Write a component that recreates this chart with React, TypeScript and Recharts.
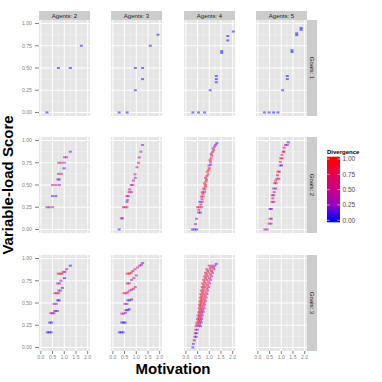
import React from 'react';
import { ScatterChart, Scatter, XAxis, YAxis, CartesianGrid } from 'recharts';

// [motivation, variable-load score, divergence]
type Pt = [number, number, number];

const agents = [2, 3, 4, 5];
const goals = [1, 2, 3];
const xTicks = [0, 0.5, 1, 1.5, 2];
const yTicks = [0, 0.25, 0.5, 0.75, 1];
const xMinor = [0.25, 0.75, 1.25, 1.75];
const yMinor = [0.125, 0.375, 0.625, 0.875];
const legendTicks = [1, 0.75, 0.5, 0.25, 0];

const a2g1: Pt[] = [[0.26, 0, 0], [0.75, 0.5, 0], [1.26, 0.5, 0], [1.73, 0.75, 0]];
const a3g1: Pt[] = [
  [0.27, 0, 0], [0.61, 0, 0], [0.96, 0.25, 0], [0.96, 0.5, 0], [1.27, 0.5, 0],
  [1.27, 0.375, 0], [1.6, 0.75, 0], [1.93, 0.875, 0],
];
const a4g1: Pt[] = [
  [0.3, 0, 0], [0.54, 0, 0], [0.8, 0, 0], [1.04, 0.25, 0], [1.3, 0.41, 0], [1.3, 0.375, 0],
  [1.3, 0.34, 0], [1.53, 0.69, 0], [1.53, 0.67, 0], [1.79, 0.86, 0], [1.79, 0.81, 0], [2.03, 0.91, 0],
];
const a5g1: Pt[] = [
  [0.28, 0, 0], [0.48, 0, 0], [0.67, 0, 0], [0.86, 0, 0], [1.06, 0.25, 0], [1.26, 0.41, 0],
  [1.26, 0.375, 0], [1.46, 0.7, 0], [1.46, 0.68, 0], [1.66, 0.89, 0], [1.66, 0.87, 0],
  [1.85, 0.95, 0], [1.85, 0.93, 0],
];

const a2g2: Pt[] = [
  [0.26, 0.25, 0.3], [0.36, 0.25, 0.2], [0.5, 0.25, 0.4], [0.5, 0.375, 0.1], [0.64, 0.375, 0.1],
  [0.5, 0.5, 0.6], [0.64, 0.5, 0.4], [0.79, 0.5, 0.3], [0.73, 0.5625, 0.05], [0.79, 0.5625, 0.3],
  [0.76, 0.625, 0.5], [0.87, 0.625, 0.6], [0.99, 0.6875, 0.05], [0.76, 0.75, 0.9], [0.87, 0.75, 0.6],
  [1.0, 0.75, 0.4], [1.01, 0.8125, 0.5], [1.1, 0.8125, 0.4], [1.26, 0.875, 0.15],
];
const a3g2: Pt[] = [
  [0.27, 0, 0.05], [0.36, 0.125, 0.3], [0.41, 0.125, 0.3], [0.45, 0.25, 0.5], [0.52, 0.25, 0.7],
  [0.6, 0.25, 0.9], [0.6, 0.31, 0.4], [0.62, 0.33, 0.3], [0.6, 0.375, 0.8], [0.66, 0.375, 0.5],
  [0.7, 0.42, 0.6], [0.79, 0.42, 0.3], [0.72, 0.45, 0.5], [0.79, 0.5, 0.4], [0.85, 0.5, 0.7],
  [0.88, 0.55, 0.4], [0.96, 0.58, 0.3], [0.95, 0.62, 0.5], [1.03, 0.7, 0.5], [1.1, 0.75, 0.6],
  [1.13, 0.81, 0.4], [1.2, 0.875, 0.3], [1.27, 0.95, 0.2],
];
const a4g2: Pt[] = [
  [0.28, 0, 0.1], [0.38, 0, 0], [0.46, 0, 0.1], [0.42, 0.06, 0.3], [0.46, 0.12, 0.4],
  [0.54, 0.19, 0.2], [0.62, 0.19, 0.1], [0.5, 0.25, 0.9], [0.58, 0.25, 0.8], [0.68, 0.25, 0.3],
  [0.6, 0.31, 0.1], [0.7, 0.31, 0.5], [0.66, 0.37, 0.9], [0.74, 0.37, 0.7], [0.7, 0.42, 0.5],
  [0.79, 0.42, 0.2], [0.76, 0.46, 0.7], [0.84, 0.48, 0.9], [0.8, 0.52, 0.6], [0.86, 0.54, 0.9],
  [0.84, 0.58, 0.8], [0.9, 0.6, 0.9], [0.92, 0.65, 0.9], [0.98, 0.67, 0.7], [0.99, 0.72, 0.2],
  [1.06, 0.73, 0.3], [1.03, 0.78, 0.7], [1.08, 0.8, 0.9], [1.08, 0.85, 0.5], [1.14, 0.87, 0.6],
  [1.16, 0.91, 0.4], [1.22, 0.93, 0.3], [1.27, 0.95, 0.2], [1.32, 0.97, 0.1],
  [0.55, 0.22, 0.9], [0.64, 0.28, 0.9], [0.69, 0.34, 0.8], [0.73, 0.4, 0.9], [0.8, 0.45, 0.9],
  [0.83, 0.5, 0.9], [0.88, 0.56, 0.7], [0.95, 0.62, 0.9], [1.0, 0.69, 0.9], [1.05, 0.76, 0.9],
  [1.11, 0.83, 0.8], [1.19, 0.89, 0.6],
];
const a5g2: Pt[] = [
  [0.3, 0, 0.2], [0.4, 0, 0.4], [0.48, 0.065, 0.5], [0.56, 0.065, 0.3], [0.52, 0.12, 0.3],
  [0.58, 0.12, 0.6], [0.52, 0.23, 0.1], [0.58, 0.23, 0.2], [0.6, 0.31, 0.7], [0.68, 0.31, 0.5],
  [0.62, 0.385, 0.6], [0.68, 0.385, 0.3], [0.68, 0.46, 0.4], [0.76, 0.46, 0.2], [0.72, 0.52, 0.9],
  [0.78, 0.52, 0.7], [0.82, 0.57, 0.4], [0.9, 0.57, 0.5], [0.86, 0.65, 0.9], [0.92, 0.65, 0.7],
  [0.95, 0.72, 0.3], [1.01, 0.72, 0.1], [0.98, 0.8, 0.9], [1.04, 0.8, 0.7], [1.08, 0.875, 0.6],
  [1.12, 0.875, 0.7], [1.18, 0.95, 0.3], [1.26, 0.95, 0.3], [1.3, 0.98, 0.1],
  [0.64, 0.35, 0.8], [0.7, 0.42, 0.7], [0.76, 0.55, 0.8], [0.84, 0.61, 0.9], [0.96, 0.76, 0.8],
  [1.03, 0.84, 0.8], [1.12, 0.92, 0.6],
];

const a2g3: Pt[] = [
  [0.28, 0.17, 0.05], [0.36, 0.17, 0.05], [0.44, 0.17, 0.05], [0.38, 0.28, 0.05], [0.46, 0.28, 0.05],
  [0.42, 0.385, 0.4], [0.5, 0.385, 0.4], [0.56, 0.385, 0.4], [0.6, 0.41, 0.05], [0.7, 0.41, 0.05],
  [0.56, 0.49, 0.35], [0.66, 0.49, 0.35], [0.72, 0.53, 0.05], [0.78, 0.53, 0.05],
  [0.6, 0.61, 0.6], [0.68, 0.61, 0.6], [0.76, 0.61, 0.6], [0.76, 0.64, 0.3], [0.84, 0.64, 0.3],
  [0.92, 0.67, 0.05], [0.72, 0.72, 0.4], [0.8, 0.72, 0.4], [0.86, 0.75, 0.3], [1.01, 0.78, 0],
  [0.74, 0.83, 0.9], [0.82, 0.83, 0.9], [0.9, 0.83, 0.9], [0.96, 0.85, 0.6], [1.03, 0.85, 0.6],
  [1.1, 0.88, 0.3], [1.26, 0.92, 0],
];
const a3g3: Pt[] = [
  [0.28, 0.17, 0.05], [0.36, 0.17, 0.05], [0.44, 0.17, 0.05], [0.38, 0.28, 0.05], [0.46, 0.28, 0.05],
  [0.52, 0.28, 0.05], [0.38, 0.38, 0.4], [0.46, 0.38, 0.4], [0.54, 0.39, 0.4], [0.56, 0.42, 0.1],
  [0.64, 0.42, 0.1], [0.7, 0.43, 0.1], [0.52, 0.49, 0.4], [0.6, 0.49, 0.4], [0.64, 0.53, 0.1],
  [0.72, 0.53, 0.1], [0.8, 0.54, 0.1], [0.48, 0.61, 0.8], [0.56, 0.61, 0.8], [0.64, 0.62, 0.8],
  [0.72, 0.64, 0.5], [0.8, 0.65, 0.5], [0.88, 0.66, 0.5], [0.96, 0.68, 0.5], [0.62, 0.72, 0.6],
  [0.7, 0.72, 0.6], [0.8, 0.76, 0.4], [0.9, 0.78, 0.4], [1.0, 0.81, 0.4], [0.62, 0.83, 0.9],
  [0.7, 0.83, 0.9], [0.78, 0.84, 0.9], [0.85, 0.86, 0.6], [0.95, 0.88, 0.6], [1.05, 0.9, 0.6],
  [1.15, 0.92, 0.3], [1.22, 0.93, 0.3], [1.27, 0.95, 0.2],
];
const a4g3: Pt[] = [
  [0.3, 0, 0.05], [0.32, 0.04, 0.2], [0.36, 0.08, 0.1], [0.38, 0.12, 0.4], [0.44, 0.12, 0.1],
  [0.4, 0.16, 0.5], [0.46, 0.16, 0.1], [0.42, 0.2, 0.6], [0.5, 0.2, 0.3],
  [0.44, 0.24, 0.7], [0.52, 0.24, 0.5], [0.62, 0.24, 0.1], [0.48, 0.28, 0.8], [0.56, 0.28, 0.6],
  [0.66, 0.28, 0.2], [0.5, 0.32, 0.7], [0.58, 0.32, 0.9], [0.68, 0.32, 0.3], [0.52, 0.36, 0.6],
  [0.6, 0.36, 0.8], [0.7, 0.36, 0.4], [0.55, 0.4, 0.9], [0.64, 0.4, 0.7], [0.74, 0.4, 0.3],
  [0.56, 0.44, 0.8], [0.66, 0.44, 0.9], [0.78, 0.44, 0.4], [0.58, 0.48, 0.9], [0.68, 0.48, 0.8],
  [0.8, 0.48, 0.6], [0.6, 0.52, 0.9], [0.7, 0.52, 0.9], [0.84, 0.52, 0.5], [0.62, 0.56, 0.8],
  [0.72, 0.56, 0.9], [0.86, 0.56, 0.6], [0.64, 0.6, 0.9], [0.76, 0.6, 0.8], [0.9, 0.6, 0.5],
  [0.66, 0.64, 0.7], [0.78, 0.64, 0.9], [0.94, 0.64, 0.6], [0.7, 0.68, 0.8], [0.82, 0.68, 0.9],
  [0.98, 0.68, 0.5], [0.72, 0.72, 0.9], [0.86, 0.72, 0.8], [1.02, 0.72, 0.5], [0.76, 0.76, 0.8],
  [0.9, 0.76, 0.9], [1.06, 0.76, 0.6], [0.8, 0.8, 0.9], [0.94, 0.8, 0.8], [1.1, 0.8, 0.5],
  [0.84, 0.84, 0.8], [0.98, 0.84, 0.9], [1.14, 0.84, 0.5], [0.9, 0.88, 0.7], [1.04, 0.88, 0.8],
  [1.2, 0.88, 0.4], [1.0, 0.92, 0.6], [1.12, 0.92, 0.5], [1.24, 0.92, 0.3], [1.3, 0.94, 0.2],
  [0.47, 0.26, 0.8], [0.58, 0.26, 0.4], [0.53, 0.3, 0.9], [0.63, 0.3, 0.5], [0.55, 0.34, 0.8],
  [0.65, 0.34, 0.6], [0.57, 0.38, 0.9], [0.68, 0.38, 0.5], [0.6, 0.42, 0.8], [0.71, 0.42, 0.7],
  [0.62, 0.46, 0.9], [0.74, 0.46, 0.7], [0.64, 0.5, 0.9], [0.77, 0.5, 0.8], [0.66, 0.54, 0.9],
  [0.79, 0.54, 0.7], [0.68, 0.58, 0.9], [0.82, 0.58, 0.8], [0.71, 0.62, 0.9], [0.86, 0.62, 0.7],
  [0.74, 0.66, 0.8], [0.9, 0.66, 0.6], [0.77, 0.7, 0.9], [0.93, 0.7, 0.7], [0.8, 0.74, 0.9],
  [0.97, 0.74, 0.7], [0.84, 0.78, 0.9], [1.01, 0.78, 0.6], [0.88, 0.82, 0.8], [1.05, 0.82, 0.6],
  [0.94, 0.86, 0.8], [1.1, 0.86, 0.5], [1.06, 0.9, 0.6], [1.18, 0.9, 0.4],
];
const a5g3: Pt[] = [];

const panels: Pt[][][] = [
  [a2g1, a3g1, a4g1, a5g1],
  [a2g2, a3g2, a4g2, a5g2],
  [a2g3, a3g3, a4g3, a5g3],
];

// blue -> red gradient (approximates ggplot's Lab interpolation)
const stops = ['#0000FF', '#9A00C3', '#CA0089', '#E8004F', '#FF0000'];
function hex(c: string) {
  return [1, 3, 5].map((i) => parseInt(c.slice(i, i + 2), 16));
}
function divColor(d: number) {
  const t = Math.max(0, Math.min(1, d)) * (stops.length - 1);
  const i = Math.min(Math.floor(t), stops.length - 2);
  const f = t - i;
  const a = hex(stops[i]);
  const b = hex(stops[i + 1]);
  const m = a.map((v, k) => Math.round(v + (b[k] - v) * f));
  return `rgb(${m[0]},${m[1]},${m[2]})`;
}

const font = 'Liberation Sans, Arial, Helvetica, sans-serif';
const colLeft = [39, 111, 184, 256];
const rowTop = [20, 137, 255];
const panelW = 51;
const panelH = 96;
const pad = 6;
const xDomain = [-0.08, 2.1];
const yDomain = [-0.04, 1.04];

const Mark = (props: any) => {
  const { cx, cy, payload } = props;
  if (cx == null || cy == null) return null;
  return (
    <rect x={cx - 1.5} y={cy - 1} width={3} height={2} fill={divColor(payload.d)} fillOpacity={0.5} />
  );
};

function Panel({ data, row, col }: { data: Pt[]; row: number; col: number }) {
  const showY = col === 0;
  const showX = row === 2;
  const yW = showY ? 29 : 0;
  const xH = showX ? 14 : 0;
  const rows = data.map(([x, y, d]) => ({ x, y, d }));
  return (
    <div style={{ position: 'absolute', left: colLeft[col] - yW - pad, top: rowTop[row] }}>
      <ScatterChart width={panelW + yW + pad * 2} height={panelH + xH}
        margin={{ top: 0, right: pad, bottom: 0, left: pad }}>
        <CartesianGrid fill="#E5E5E5" fillOpacity={1} stroke="#F2F2F2" strokeWidth={0.5}
          horizontalValues={yMinor} verticalValues={xMinor} />
        <CartesianGrid stroke="#FFFFFF" strokeWidth={1} horizontalValues={yTicks} verticalValues={xTicks} />
        <XAxis type="number" dataKey="x" domain={xDomain} ticks={xTicks} allowDataOverflow interval={0}
          hide={!showX} height={xH} axisLine={false} tickSize={3} tickMargin={1}
          tickLine={{ stroke: '#7F7F7F' }} tick={{ fill: '#7F7F7F', fontSize: 5.2, fontFamily: font }}
          tickFormatter={(v: number) => v.toFixed(1)} />
        <YAxis type="number" dataKey="y" domain={yDomain} ticks={yTicks} allowDataOverflow interval={0}
          hide={!showY} width={yW} axisLine={false} tickSize={4} tickMargin={3}
          tickLine={{ stroke: '#7F7F7F' }} tick={{ fill: '#7F7F7F', fontSize: 5.2, fontFamily: font }}
          tickFormatter={(v: number) => v.toFixed(2)} />
        <Scatter data={rows} shape={Mark} isAnimationActive={false} />
      </ScatterChart>
    </div>
  );
}

export default function App() {
  const barTop = 156.7;
  const barBottom = 222.3;
  const v0 = 220.3;
  const v1 = 159;
  const legendY = (v: number) => v0 - (v0 - v1) * v;
  return (
    <div style={{ position: 'absolute', left: 0, top: 0, width: 382, height: 382, background: '#fff', fontFamily: font }}>
      <svg width={382} height={382} style={{ position: 'absolute', left: 0, top: 0 }} fontFamily={font}>
        <defs>
          <linearGradient id="divGrad" x1="0" y1="1" x2="0" y2="0">
            {stops.map((c, i) => (
              <stop key={i} offset={`${((i / (stops.length - 1)) * (v0 - v1) + (barBottom - v0)) / (barBottom - barTop) * 100}%`} stopColor={c} />
            ))}
          </linearGradient>
        </defs>
        {agents.map((a, i) => (
          <g key={a}>
            <rect x={colLeft[i]} y={11} width={panelW} height={9} fill="#CCCCCC" />
            <text x={colLeft[i] + panelW / 2} y={17.7} textAnchor="middle" fontSize={6} fill="#1A1A1A">
              {`Agents: ${a}`}
            </text>
          </g>
        ))}
        {goals.map((g, i) => (
          <g key={g}>
            <rect x={307} y={rowTop[i]} width={10} height={panelH} fill="#CCCCCC" />
            <text transform={`translate(309.8, ${rowTop[i] + panelH / 2}) rotate(90)`} textAnchor="middle"
              fontSize={6} fill="#1A1A1A">
              {`Goals: ${g}`}
            </text>
          </g>
        ))}
        <text transform="translate(12.5, 185) rotate(-90)" textAnchor="middle" fontSize={15} fontWeight="bold">
          Variable-load Score
        </text>
        <text x={173} y={374} textAnchor="middle" fontSize={15} fontWeight="bold">
          Motivation
        </text>
        <text x={327} y={154} fontSize={6} fontWeight="bold">Divergence</text>
        <rect x={327} y={barTop} width={13} height={barBottom - barTop} fill="url(#divGrad)" />
        {legendTicks.map((v) => (
          <g key={v}>
            <line x1={327} x2={329.6} y1={legendY(v)} y2={legendY(v)} stroke="#fff" strokeWidth={0.6} />
            <line x1={337.4} x2={340} y1={legendY(v)} y2={legendY(v)} stroke="#fff" strokeWidth={0.6} />
            <text x={342.5} y={legendY(v) + 2.3} fontSize={6.5} fill="#4D4D4D">{v.toFixed(2)}</text>
          </g>
        ))}
      </svg>
      {panels.map((r, ri) => r.map((data, ci) => <Panel key={`${ri}-${ci}`} data={data} row={ri} col={ci} />))}
    </div>
  );
}
